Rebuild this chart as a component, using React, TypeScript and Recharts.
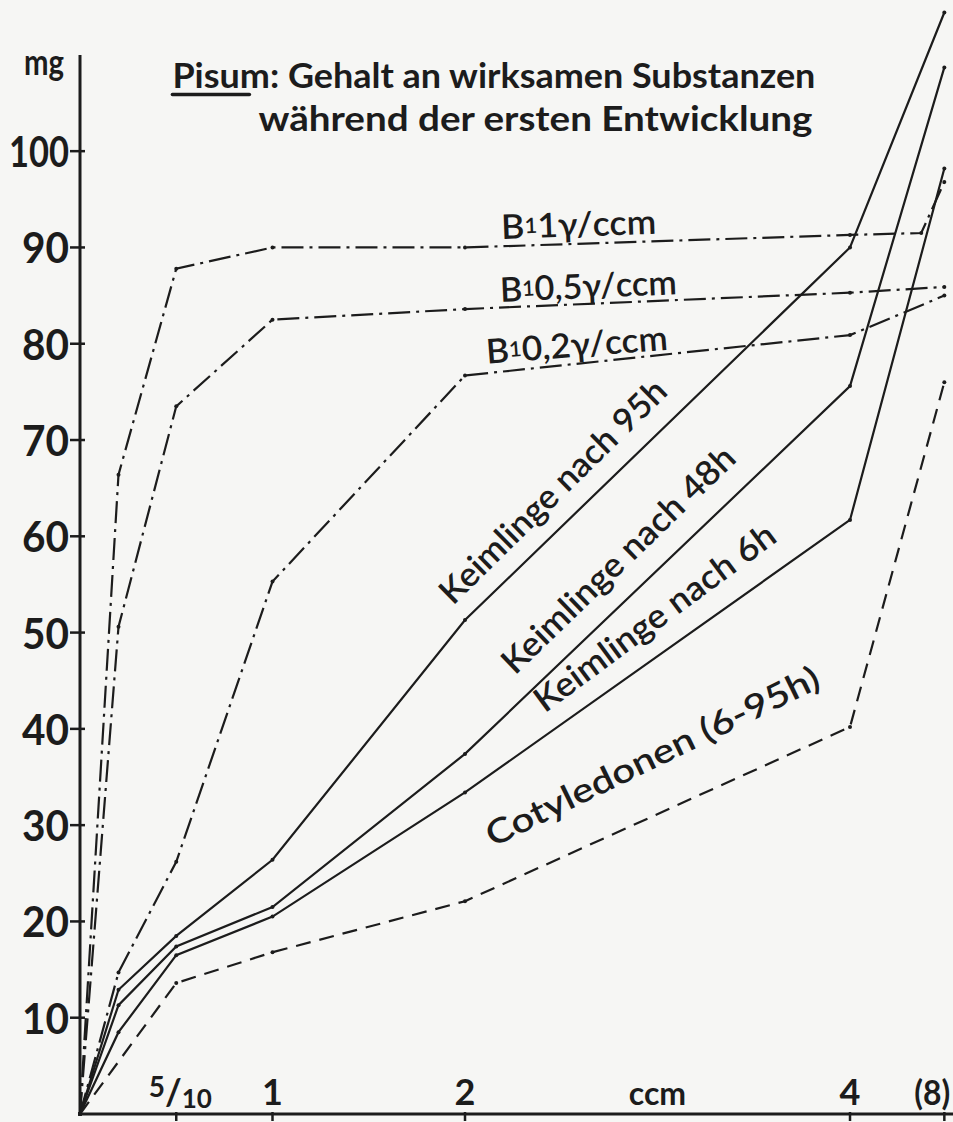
import React from "react";
import { LineChart, Line, XAxis, YAxis, ReferenceLine, ReferenceDot } from "recharts";

const INK = "#1c1c1c";
const PAPER = "#f6f6f4";
const FONT = "Lato, 'Open Sans', sans-serif";

// ccm of solution; the axis is broken after 4, so 8 is drawn just right of it
const ccm = [0, 0.2, 0.5, 1, 2, 4, 8];
const ccmPos = [0, 0.2, 0.5, 1, 2, 4, 4.49];

// mg of active substance
const b1_1 = [0, 66.4, 87.8, 90.0, 90.0, 91.3, 96.8];
const b1_05 = [0, 50.6, 73.5, 82.5, 83.6, 85.3, 85.9];
const b1_02 = [0, 14.7, 26.2, 55.3, 76.7, 80.9, 85.0];
const k95 = [0, 12.9, 18.5, 26.4, 51.3, 90.0, 114.4];
const k48 = [0, 11.3, 17.4, 21.5, 37.4, 75.6, 108.7];
const k6 = [0, 8.5, 16.5, 20.5, 33.4, 61.7, 98.2];
const cot = [0, null, 13.6, 16.8, 22.1, 40.2, 76.0];
// the 1γ curve stays level past 4 and only turns up right before (8)
const b1_1Kink = { x: 4.37, y: 91.5 };

const yTicks = [10, 20, 30, 40, 50, 60, 70, 80, 90, 100];
const xTicks = [0.5, 1, 2, 3, 4, 4.49];
const xTickLabels = ["5/10", "1", "2", "ccm", "4", "(8)"];

const toPoints = (vals: (number | null)[]) =>
  ccmPos.map((x, i) => ({ x, ccm: ccm[i], y: vals[i] })).filter((p) => p.y != null);

const b1_1Points = (() => {
  const pts = toPoints(b1_1);
  pts.splice(pts.length - 1, 0, { x: b1_1Kink.x, ccm: 8, y: b1_1Kink.y });
  return pts;
})();

const DASHDOT = "22 6 3 6";
const DASHED = "15 9";

const series = [
  { key: "b1_1", data: b1_1Points, dash: DASHDOT },
  { key: "b1_05", data: toPoints(b1_05), dash: DASHDOT },
  { key: "b1_02", data: toPoints(b1_02), dash: DASHDOT },
  { key: "k95", data: toPoints(k95), dash: undefined },
  { key: "k48", data: toPoints(k48), dash: undefined },
  { key: "k6", data: toPoints(k6), dash: undefined },
  { key: "cot", data: toPoints(cot), dash: DASHED },
];

type Note = {
  text: string;
  x: number;
  y: number;
  angle?: number;
  size: number;
  len?: number;
  anchor?: "start" | "middle" | "end";
  central?: boolean;
  underline?: number;
  weight?: number;
  dx?: number;
};

const notes: Note[] = [
  { text: "mg", x: 0, y: 107.9, size: 36, len: 40, anchor: "end", dx: -16, weight: 700 },
  { text: "Pisum: Gehalt an wirksamen Substanzen", x: 0.48, y: 106.6, size: 35, len: 643, anchor: "start", underline: 77, weight: 700 },
  { text: "während der ersten Entwicklung", x: 0.927, y: 102.1, size: 35, len: 554, anchor: "start", weight: 700 },
  { text: "B₁1γ/ccm", x: 2.59, y: 92.6, angle: -2, size: 34, len: 155, central: true },
  { text: "B₁0,5γ/ccm", x: 2.64, y: 86.2, angle: -2.5, size: 34, len: 177, central: true },
  { text: "B₁0,2γ/ccm", x: 2.58, y: 80.1, angle: -4.5, size: 34, len: 182, central: true },
  { text: "Keimlinge nach 95h", x: 2.45, y: 64.8, angle: -44.5, size: 34, len: 303, central: true },
  { text: "Keimlinge nach 48h", x: 2.79, y: 57.7, angle: -44, size: 34, len: 310, central: true },
  { text: "Keimlinge nach 6h", x: 2.98, y: 51.7, angle: -36.5, size: 34, len: 291, central: true },
  { text: "Cotyledonen (6-95h)", x: 2.97, y: 37.3, angle: -26, size: 34, len: 367, central: true },
];

const renderText = (t: string) => {
  if (!t.includes("₁")) return t;
  const [a, b] = t.split("₁");
  return (
    <>
      <tspan>{a}</tspan>
      <tspan fontSize="62%">1</tspan>
      <tspan>{b}</tspan>
    </>
  );
};

const noteShape = (n: Note) => (props: any) => {
  const cx = props.cx + (n.dx || 0);
  const cy = props.cy;
  return (
    <g>
      <text
        x={cx}
        y={cy}
        transform={n.angle ? `rotate(${n.angle} ${cx} ${cy})` : undefined}
        textAnchor={n.anchor || "middle"}
        dominantBaseline={n.central ? "central" : "alphabetic"}
        fontFamily={FONT}
        fontWeight={n.weight || 600}
        fontSize={n.size}
        fill={INK}
        textLength={n.len}
        lengthAdjust={n.len ? "spacingAndGlyphs" : undefined}
      >
        {renderText(n.text)}
      </text>
      {n.underline ? (
        <line x1={cx} x2={cx + n.underline} y1={cy + 7} y2={cy + 7} stroke={INK} strokeWidth={3.5} strokeLinecap="round" />
      ) : null}
    </g>
  );
};

const XTick = (props: any) => {
  const { x, y, payload } = props;
  const i = xTicks.indexOf(payload.value);
  const label = xTickLabels[i];
  const common = { fontFamily: FONT, fontWeight: 700, fill: INK };
  return (
    <g>
      {label !== "ccm" && <line x1={x} x2={x} y1={y - 2} y2={y + 7} stroke={INK} strokeWidth={2.5} />}
      {label === "5/10" ? (
        <text x={x + 4} y={y - 9} textAnchor="middle" {...common} fontSize={34}>
          <tspan fontSize={28} dy={-8}>5</tspan>
          <tspan fontSize={36} dy={8}>/</tspan>
          <tspan fontSize={26} dy={3}>10</tspan>
        </text>
      ) : label === "(8)" ? (
        <text x={x + 6} y={y - 9} textAnchor="end" {...common} fontSize={34} textLength={36} lengthAdjust="spacingAndGlyphs">
          {label}
        </text>
      ) : (
        <text x={x} y={y - 9} textAnchor="middle" {...common} fontSize={label === "ccm" ? 32 : 36}>
          {label}
        </text>
      )}
    </g>
  );
};

const YTick = (props: any) => {
  const { x, y, payload } = props;
  const label = String(payload.value);
  return (
    <g>
      <line x1={x - 10} x2={x + 5} y1={y} y2={y} stroke={INK} strokeWidth={2.5} />
      <text
        x={x - 11}
        y={y}
        textAnchor="end"
        dominantBaseline="central"
        fontFamily={FONT}
        fontWeight={700}
        fontSize={42}
        fill={INK}
        textLength={label.length === 3 ? 60 : 47}
        lengthAdjust="spacingAndGlyphs"
      >
        {label}
      </text>
    </g>
  );
};

export default function App() {
  return (
    <div style={{ position: "absolute", left: 0, top: 0, width: 953, height: 1122, background: PAPER }}>
      <LineChart width={953} height={1122} margin={{ top: 0, right: 0, bottom: 0, left: 0 }}>
        <XAxis
          type="number"
          dataKey="x"
          domain={[0, 4.535]}
          ticks={xTicks}
          interval={0}
          height={8}
          tickSize={0}
          tickMargin={0}
          tickLine={false}
          axisLine={{ stroke: INK, strokeWidth: 3 }}
          tick={<XTick />}
        />
        <YAxis
          type="number"
          dataKey="y"
          domain={[0, 115.7]}
          ticks={yTicks}
          interval={0}
          width={80}
          tickSize={0}
          tickMargin={0}
          tickLine={false}
          axisLine={false}
          tick={<YTick />}
        />
        <ReferenceLine
          segment={[{ x: 0, y: 0 }, { x: 0, y: 110 }]}
          stroke={INK}
          strokeWidth={3}
          ifOverflow="visible"
        />
        {series.map((s) => (
          <Line
            key={s.key}
            data={s.data}
            dataKey="y"
            type="linear"
            stroke={INK}
            strokeWidth={2.2}
            strokeDasharray={s.dash}
            dot={{ r: 2, fill: INK, stroke: "none" }}
            activeDot={false}
            isAnimationActive={false}
          />
        ))}
        {notes.map((n, i) => (
          <ReferenceDot key={i} x={n.x} y={n.y} r={0} ifOverflow="visible" shape={noteShape(n)} />
        ))}
      </LineChart>
    </div>
  );
}
